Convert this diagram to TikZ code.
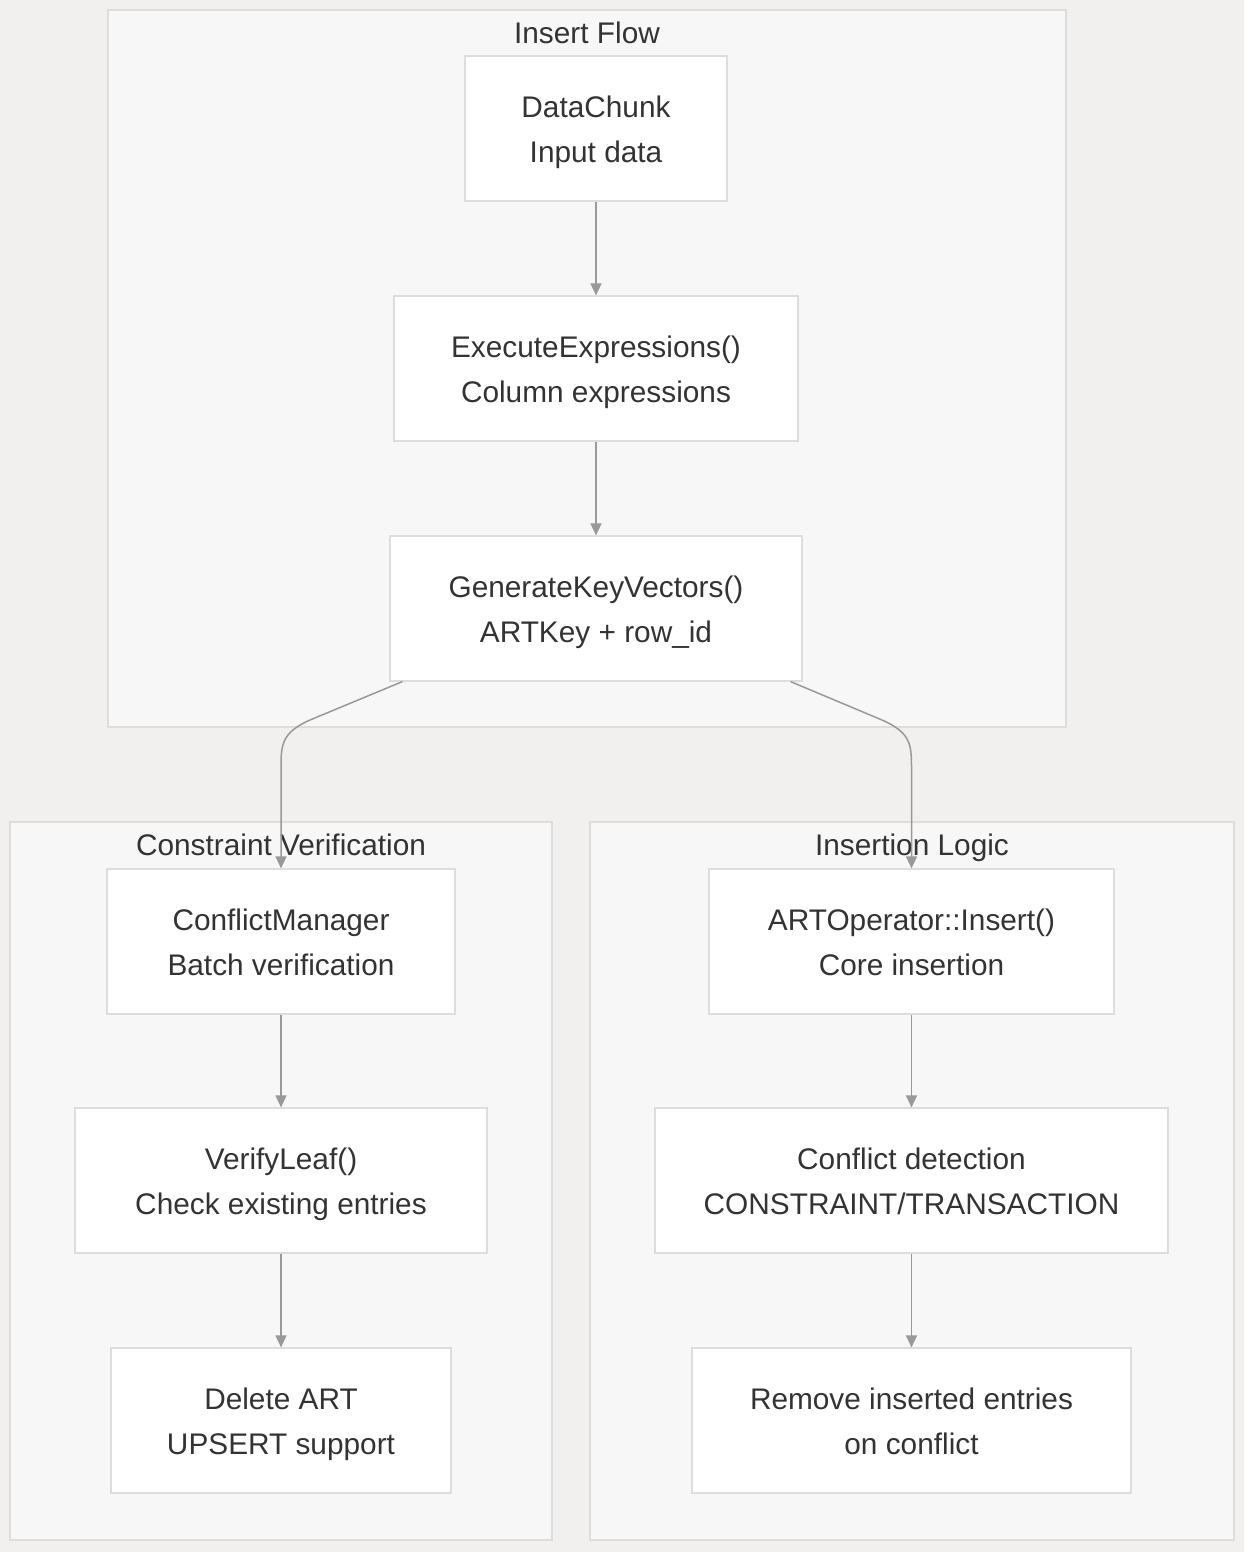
\documentclass[tikz,border=0pt]{standalone}
\usepackage{fontspec}
\setmainfont{Liberation Sans}
\usetikzlibrary{arrows.meta}
\definecolor{bgc}{HTML}{F1F0EF}
\definecolor{clfill}{HTML}{F7F7F7}
\definecolor{clline}{HTML}{DDDDDD}
\definecolor{ndline}{HTML}{DDDDDD}
\definecolor{txt}{HTML}{333333}
\definecolor{arrc}{HTML}{999999}
\tikzset{
  box/.style={draw=ndline, fill=white, line width=0.6pt, minimum height=72.5pt, inner sep=0pt, align=center, text=txt, text height=34.4pt, text depth=0pt, font=\fontsize{14.9}{22.5}\selectfont},
  cluster/.style={draw=clline, fill=clfill, line width=0.6pt},
  ctitle/.style={text=txt, font=\fontsize{14.9}{18}\selectfont, inner sep=0pt, text height=10.9pt, text depth=0pt},
  arr/.style={draw=arrc, line width=0.75pt, -{Triangle[length=6pt,width=5.5pt]}}
}
\begin{document}
\begin{tikzpicture}[x=0.5pt,y=-0.5pt]
\useasboundingbox (0,0) rectangle (1244,1552);
\fill[bgc] (0,0) rectangle (1244,1552);
% clusters
\draw[cluster] (108,10) rectangle (1066,727);
\draw[cluster] (10,822) rectangle (552,1540);
\draw[cluster] (590,822) rectangle (1234,1540);
\node[ctitle] (t1) at (587,33) {Insert Flow};
\node[ctitle] (t2) at (281,845) {Constraint Verification};
\node[ctitle] (t3) at (912,845) {Insertion Logic};
% nodes
\node[box, minimum width=131pt] (dc) at (596,128.5) {DataChunk\\Input data};
\node[box, minimum width=202pt] (ee) at (596,368.5) {ExecuteExpressions()\\Column expressions};
\node[box, minimum width=206pt] (gk) at (596,608.5) {GenerateKeyVectors()\\ARTKey + row\_id};
\node[box, minimum width=174pt] (cm) at (281,941.5) {ConflictManager\\Batch verification};
\node[box, minimum width=206pt] (vl) at (281,1180.5) {VerifyLeaf()\\Check existing entries};
\node[box, minimum width=170pt] (da) at (281,1420.5) {Delete ART\\UPSERT support};
\node[box, minimum width=202.5pt] (ao) at (911.5,941.5) {ARTOperator::Insert()\\Core insertion};
\node[box, minimum width=256.5pt] (cd) at (911.5,1180.5) {Conflict detection\\CONSTRAINT/TRANSACTION};
\node[box, minimum width=219.5pt] (ri) at (911.5,1420.5) {Remove inserted entries\\on conflict};
% edges
\draw[arr] (dc) -- (ee);
\draw[arr] (ee) -- (gk);
\draw[arr] ([xshift=6.5pt]gk.south west) -- (310,720) .. controls (281,733) and (281,745) .. (281,770) -- (cm.north);
\draw[arr] ([xshift=-6pt]gk.south east) -- (882,720) .. controls (911.5,733) and (911.5,745) .. (911.5,770) -- (ao.north);
\draw[arr] (cm) -- (vl);
\draw[arr] (vl) -- (da);
\draw[arr] (ao) -- (cd);
\draw[arr] (cd) -- (ri);
\end{tikzpicture}
\end{document}
